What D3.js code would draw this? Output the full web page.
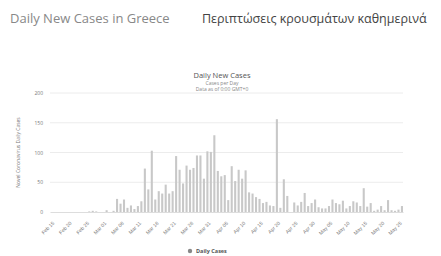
<!DOCTYPE html>
<html>
<head>
<meta charset="utf-8">
<script src="https://cdn.jsdelivr.net/npm/d3@7"></script>
<style>
body{margin:0;background:#fff;font-family:"Open Sans","DejaVu Sans",sans-serif;}
</style>
</head>
<body>
<svg id="chart"></svg>
<script>
// daily new cases, Feb 15 .. May 26
var startDate = new Date(2020, 1, 15)
var cases = [
  0,0,0,0,0,0,0,0,0,0,0,1,2,1,0,0,3,0,2,22,
  14,21,7,11,5,10,18,73,38,103,21,35,31,46,31,35,94,71,48,78,
  71,74,95,95,56,102,101,129,69,60,62,20,77,52,71,56,70,33,31,25,
  22,15,17,11,10,156,7,55,27,0,16,11,17,32,10,15,21,8,6,6,
  10,21,15,13,19,6,10,18,16,10,40,9,15,2,4,10,3,20,3,2,
  4,10
]
var yTicks = [0,50,100,150,200]
var fmt = d3.timeFormat("%b %d")
var days = cases.map((c,i)=>d3.timeDay.offset(startDate,i))

var width = 441, height = 256
var margin = {left:50, right:38, top:93, bottom:44}

var svg = d3.select("#chart").attr("width",width).attr("height",height)

svg.append("text")
   .attr("x",10).attr("y",23)
   .attr("font-size","13px").attr("fill","#888")
   .text("Daily New Cases in Greece")
svg.append("text")
   .attr("x",202).attr("y",23)
   .attr("font-size","12.5px").attr("fill","#444")
   .text("Περιπτώσεις κρουσμάτων καθημερινά")

svg.append("text")
   .attr("x",222).attr("y",78)
   .attr("font-size","7.5px").attr("fill","#555")
   .style("text-anchor","middle")
   .text("Daily New Cases")
svg.append("text")
   .attr("x",222).attr("y",85)
   .attr("font-size","5px").attr("fill","#888")
   .style("text-anchor","middle")
   .text("Cases per Day")
svg.append("text")
   .attr("x",222).attr("y",91)
   .attr("font-size","5px").attr("fill","#888")
   .style("text-anchor","middle")
   .text("Data as of 0:00 GMT+0")

var x = d3.scaleBand()
          .domain(days)
          .range([margin.left,width-margin.right])
          .paddingInner(0.4)
var y = d3.scaleLinear()
          .domain([0,200])
          .range([height-margin.bottom,margin.top])

svg.append("g").selectAll("line")
   .data(yTicks.slice(1))
   .enter().append("line")
   .attr("x1",margin.left).attr("x2",width-margin.right)
   .attr("y1",d=>y(d)).attr("y2",d=>y(d))
   .attr("stroke","#ececec").attr("stroke-width",1)

svg.append("g").selectAll("text")
   .data(yTicks)
   .enter().append("text")
   .attr("x",margin.left-7).attr("y",d=>y(d)+2)
   .attr("font-size","5px").attr("fill","#777")
   .style("text-anchor","end")
   .text(d=>d)

svg.append("text")
   .attr("transform",`translate(20,${(margin.top+height-margin.bottom)/2}) rotate(-90)`)
   .attr("font-size","5px").attr("fill","#777")
   .style("text-anchor","middle")
   .text("Novel Coronavirus Daily Cases")

svg.append("g").selectAll(".bar")
   .data(cases)
   .enter().append("rect")
   .classed("bar",true)
   .attr("x",(d,i)=>x(days[i]))
   .attr("width",x.bandwidth())
   .attr("y",d=>y(d))
   .attr("height",d=>y(0)-y(d))
   .attr("fill","#c8c8c8")

var xAxis = d3.axisBottom(x)
              .tickValues(days.filter((d,i)=>i%5===0))
              .tickFormat(fmt)
              .tickSize(0)
var gx = svg.append("g")
   .attr("transform",`translate(0,${height-margin.bottom})`)
   .call(xAxis)
gx.select(".domain").attr("stroke","#ddd")
gx.selectAll("text")
  .attr("font-size","5px").attr("fill","#777")
  .attr("transform","translate(-1,7) rotate(-45)")
  .style("text-anchor","end")

var legend = svg.append("g").attr("transform","translate(190,251)")
legend.append("circle").attr("r",2.2).attr("fill","#888")
legend.append("text").attr("x",6).attr("y",2)
      .attr("font-size","5.5px").attr("fill","#555").attr("font-weight","bold")
      .text("Daily Cases")
</script>
</body>
</html>
